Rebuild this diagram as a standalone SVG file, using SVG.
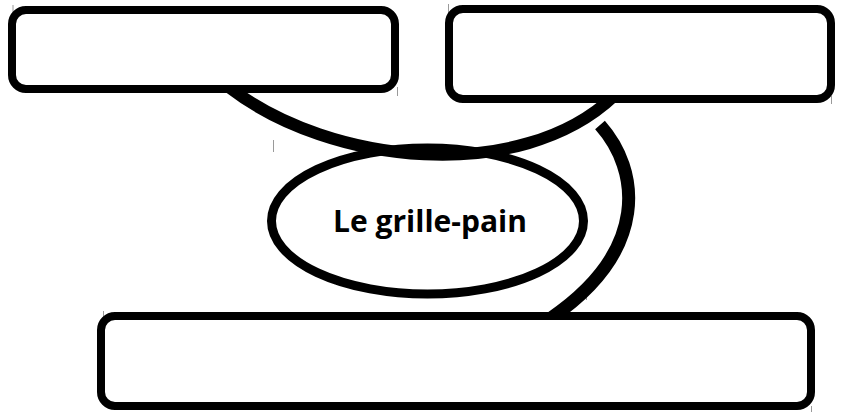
<svg xmlns="http://www.w3.org/2000/svg" width="843" height="412" viewBox="0 0 843 412">
<style>
.box{fill:#fff;stroke:#000;stroke-width:8}
.ell{fill:#fff;stroke:#000;stroke-width:9}
.link{fill:none;stroke:#000;stroke-linecap:butt}
.tick{stroke:#9a9a9a;stroke-width:1}
.label{font-family:"Open Sans","Noto Sans","Liberation Sans",sans-serif;font-weight:bold;font-size:30px;fill:#000}
</style>
<rect width="843" height="412" fill="#fff"/>
<g id="ticks">
<line class="tick" x1="13" y1="5" x2="13" y2="17"/>
<line class="tick" x1="397.5" y1="87" x2="397.5" y2="96"/>
<line class="tick" x1="273.5" y1="140" x2="273.5" y2="152"/>
<line class="tick" x1="448.5" y1="4" x2="448.5" y2="15"/>
<line class="tick" x1="831.5" y1="96" x2="831.5" y2="104"/>
<line class="tick" x1="103.5" y1="311" x2="103.5" y2="319"/>
<line class="tick" x1="586.5" y1="292" x2="586.5" y2="300"/>
<line class="tick" x1="811.5" y1="406" x2="811.5" y2="412"/>
</g>
<g id="node-center">
<ellipse class="ell" cx="427.5" cy="221" rx="156" ry="73"/>
<text class="label" x="430" y="232" text-anchor="middle">Le grille-pain</text>
</g>
<g id="connectors">
<path class="link" stroke-width="12" d="M 230 88 C 330 165, 520 185, 614 96"/>
<path class="link" stroke-width="13" d="M 600 125 C 640 170, 650 250, 551 318"/>
</g>
<g id="node-top-left">
<rect class="box" x="12" y="10" width="383" height="79" rx="14"/>
</g>
<g id="node-top-right">
<rect class="box" x="449" y="9" width="382" height="90" rx="14"/>
</g>
<g id="node-bottom">
<rect class="box" x="101" y="316" width="710" height="90" rx="14"/>
</g>
</svg>
